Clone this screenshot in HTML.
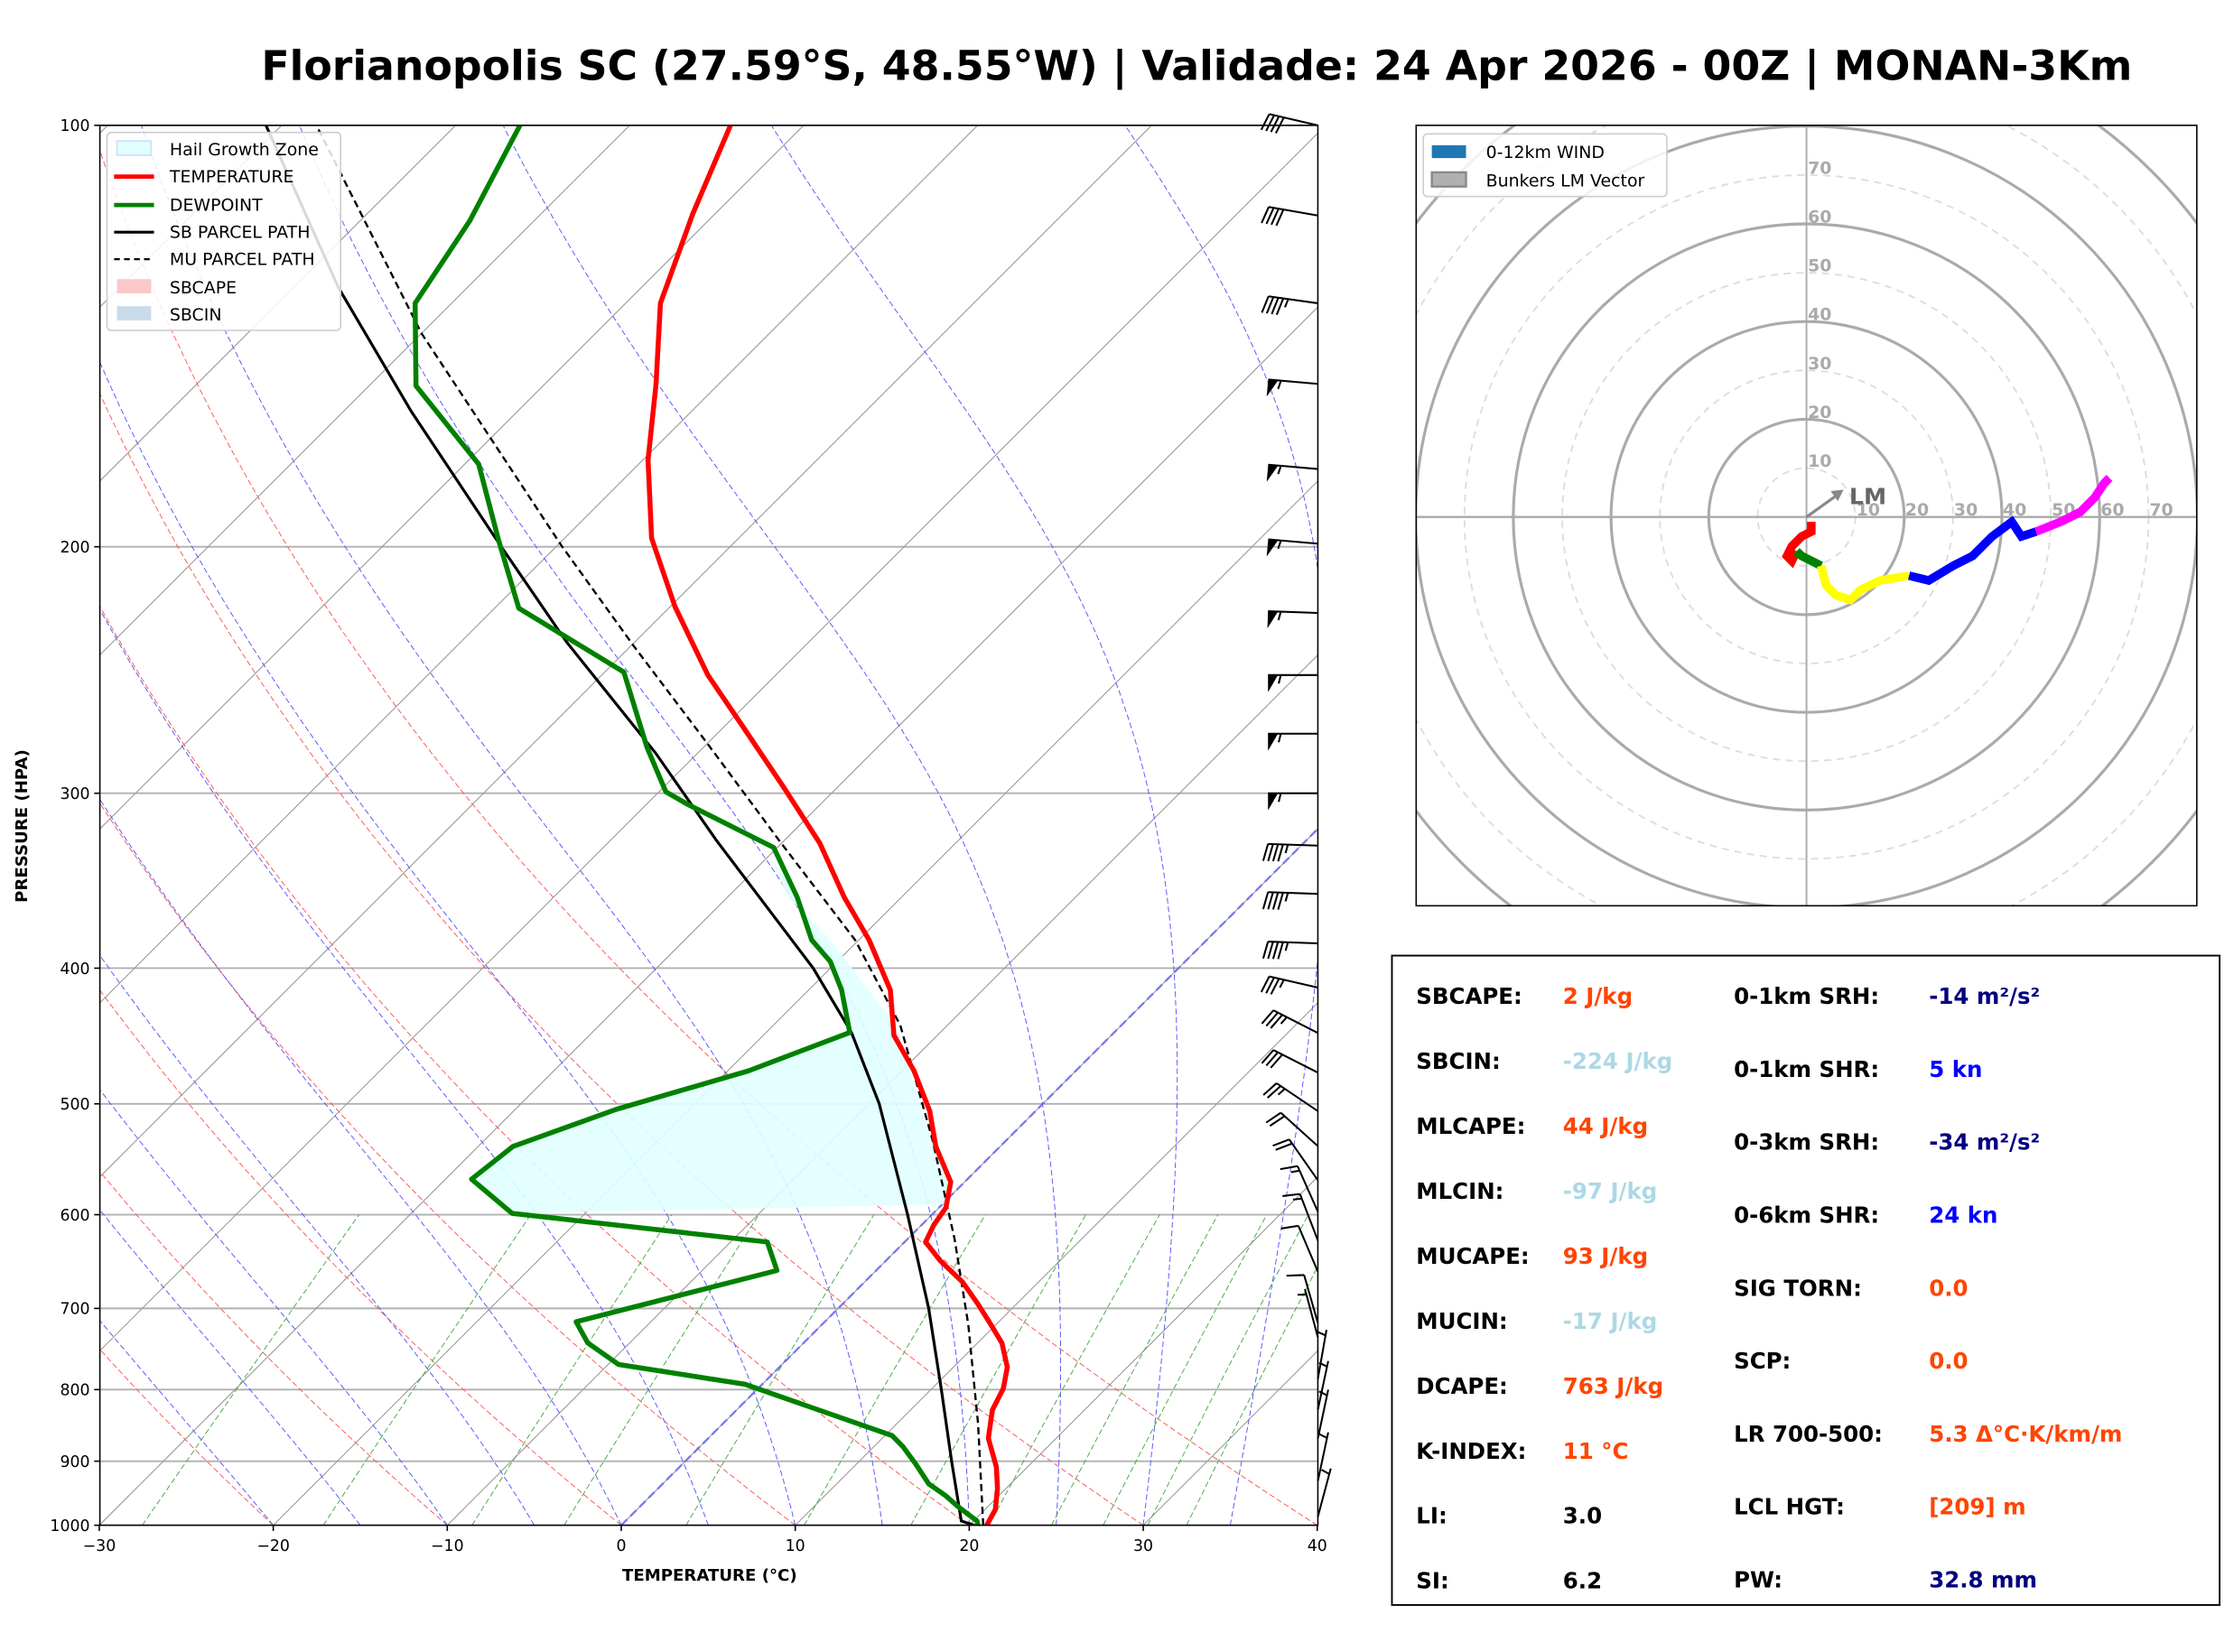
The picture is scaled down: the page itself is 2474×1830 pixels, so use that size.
<!DOCTYPE html>
<html><head><meta charset="utf-8"><style>
html,body{margin:0;padding:0;background:#fff;}
svg{display:block;font-family:"DejaVu Sans","Liberation Sans",sans-serif;}
</style></head><body>
<svg id="fig" width="2474" height="1830" viewBox="0 0 1568 1160" xmlns="http://www.w3.org/2000/svg">
<defs>
<clipPath id="skclip"><rect x="70" y="88" width="855" height="983"/></clipPath>
<clipPath id="hdclip"><rect x="994" y="88" width="548" height="548"/></clipPath>
</defs>
<rect width="1568" height="1160" fill="#fff"/>
<text x="840" y="56" text-anchor="middle" font-size="29" font-weight="bold">Florianopolis SC (27.59°S, 48.55°W) | Validade: 24 Apr 2026 - 00Z | MONAN-3Km</text>
<g id="skew">
<g id="bg" clip-path="url(#skclip)"></g>
<g id="hgz" clip-path="url(#skclip)"></g>
<g id="series" clip-path="url(#skclip)"></g>
<rect x="70" y="88" width="855" height="983" fill="none" stroke="#000" stroke-width="1"/>
<g id="axes"></g>
<g id="barbs"></g>
<text transform="translate(19,580) rotate(-90)" text-anchor="middle" font-size="11.5" font-weight="bold">PRESSURE (HPA)</text>
<text x="498" y="1110" text-anchor="middle" font-size="11.5" font-weight="bold">TEMPERATURE (°C)</text>
<g>
<rect x="75" y="93" width="164" height="139" rx="3" fill="#fff" fill-opacity="0.85" stroke="#ccc"/>
<rect x="82" y="99" width="24" height="10" fill="#e0ffff" stroke="#cdf"/><text x="119" y="109" font-size="12">Hail Growth Zone</text>
<line x1="80" y1="124" x2="108" y2="124" stroke="red" stroke-width="3"/><text x="119" y="128" font-size="12">TEMPERATURE</text>
<line x1="80" y1="144" x2="108" y2="144" stroke="green" stroke-width="3"/><text x="119" y="148" font-size="12">DEWPOINT</text>
<line x1="80" y1="163" x2="108" y2="163" stroke="#000" stroke-width="2"/><text x="119" y="167" font-size="12">SB PARCEL PATH</text>
<line x1="80" y1="182" x2="108" y2="182" stroke="#000" stroke-width="1.5" stroke-dasharray="4,3"/><text x="119" y="186" font-size="12">MU PARCEL PATH</text>
<rect x="82" y="196" width="24" height="10" fill="#f9c8c8"/><text x="119" y="206" font-size="12">SBCAPE</text>
<rect x="82" y="215" width="24" height="10" fill="#c8dcec"/><text x="119" y="225" font-size="12">SBCIN</text>
</g>
</g>
<g id="hodo">
<g id="hodobg" clip-path="url(#hdclip)"></g>
<g id="hodoline" clip-path="url(#hdclip)"></g>
<rect x="994" y="88" width="548" height="548" fill="none" stroke="#000"/>
<g>
<rect x="999" y="94" width="171" height="44" rx="3" fill="#fff" fill-opacity="0.85" stroke="#ccc"/>
<rect x="1005" y="102" width="24" height="9" fill="#1f77b4"/><text x="1043" y="111" font-size="12">0-12km WIND</text>
<rect x="1005" y="121" width="24" height="10" fill="#b0b0b0" stroke="#888" stroke-width="1.5"/><text x="1043" y="131" font-size="12">Bunkers LM Vector</text>
</g>
</g>
<g id="stats">
<rect x="977" y="671" width="581" height="456" fill="#fff" stroke="#000" stroke-width="1.2"/>
</g>
<script>
const tempP=[1000,974.6,941,908.4,866.7,827.3,798.6,771.1,741,718.8,694,669.9,646.9,627.5,610.1,593.1,568.6,536.3,505.8,473.6,446.7,414.7,381.9,355.9,325.7,296.5,267.6,247,220.8,197.2,173.4,153.1,134,115.6,100];
const tempT=[21.0,20.6,19.5,18.2,16.1,14.7,14.1,13.1,11.4,9.7,7.7,5.6,3.1,1.2,0.7,0.4,-0.8,-3.7,-6.1,-9.3,-12.5,-15.3,-19.4,-23.3,-27.8,-33.2,-39.2,-43.9,-49.7,-55.0,-59.7,-63.6,-68.0,-71.3,-74.2];
const dewP=[1000,993,970,952,934.3,904.2,879.2,862.7,793,767.6,741,715.5,657.6,627.5,598.7,566,536.3,504.6,473.6,444.6,414.7,395.6,381.9,355.9,328,305.6,299.3,278.4,245.8,221.3,198.2,174.6,153.5,134,117,100];
const dewT=[20.5,20.2,18.3,16.9,15.3,13.4,11.7,10.4,-1.0,-9.4,-12.4,-14.3,-5.7,-7.9,-24.2,-28.5,-28.0,-24.2,-18.8,-15.2,-18.1,-20.4,-22.7,-26.0,-30.2,-37.6,-39.6,-43.2,-48.9,-58.6,-63.6,-69.2,-77.3,-82.1,-83.7,-86.3];
const sbP=[1000,993,900,800,700,600,500,444.6,400,324.2,280.9,234,199.5,160.1,130.6,100];
const sbT=[20.3,19.3,15.3,10.6,5.2,-1.4,-9.4,-15.1,-21.0,-33.9,-42.4,-53.9,-63.3,-76.1,-87.4,-100.9];
const muP=[1000,846.9,718.8,624.5,530.1,439.5,381.9,324.2,276.4,235.6,199.5,140.8,100];
const muT=[20.8,14.7,8.4,2.7,-4.3,-12.7,-20.2,-30.3,-40.0,-49.8,-59.8,-80.0,-98.0];
const hgzP=[331,356,382,440,530,568,590,598.7,566,536.3,504.6,473.6,444.6,414.7,395.6,381.9,355.9];
const hgzT=[-30.2,-26.5,-21.6,-12.9,-4.4,-1.0,0.2,-24.2,-28.5,-28.0,-24.2,-18.8,-15.2,-18.1,-20.4,-22.7,-26.0];
const barbP=[100,116,134,153,176,199,223,247,272,300,327,354,384,413,445,475,506,536,567,597,626,659,717,734,786,827,867,930,986];
const barbDir=[283,280,278,275,275,275,272,270,270,270,272,272,272,283,297,297,304,312,325,336,339,337,344,345,10,12,12,12,15];
const barbSpd=[40,40,45,55,55,55,55,55,55,55,45,45,45,35,35,30,25,20,20,15,15,10,10,5,5,5,5,5,5];
const xTicks=[-30,-20,-10,0,10,20,30,40];
const yTicks=[100,200,300,400,500,600,700,800,900,1000];
const hodoRed=[[1,-1],[1,-3],[-1,-4],[-3,-6],[-4,-8],[-3,-9],[-2,-7]];
const hodoGreen=[[-2,-7],[-1,-8],[3,-10]];
const hodoYellow=[[3,-10],[4,-14],[6,-16],[9,-17],[11,-15],[15,-13],[21,-12]];
const hodoBlue=[[21,-12],[25,-13],[30,-10],[34,-8],[38,-4],[42,-1],[44,-4],[47,-3]];
const hodoMagenta=[[47,-3],[52,-1],[56,1],[59,4],[61,7],[62,8]];
const hodoRings=[10,20,30,40,50,60,70,80,90,100];
const lmVec=[7,5];
const statsLeftLabels=["SBCAPE:","SBCIN:","MLCAPE:","MLCIN:","MUCAPE:","MUCIN:","DCAPE:","K-INDEX:","LI:","SI:"];
const statsLeftValues=["2 J/kg","-224 J/kg","44 J/kg","-97 J/kg","93 J/kg","-17 J/kg","763 J/kg","11 °C","3.0","6.2"];
const statsLeftColors=["#ff4500","#add8e6","#ff4500","#add8e6","#ff4500","#add8e6","#ff4500","#ff4500","#000","#000"];
const statsRightLabels=["0-1km SRH:","0-1km SHR:","0-3km SRH:","0-6km SHR:","SIG TORN:","SCP:","LR 700-500:","LCL HGT:","PW:"];
const statsRightValues=["-14 m²/s²","5 kn","-34 m²/s²","24 kn","0.0","0.0","5.3 Δ°C·K/km/m","[209] m","32.8 mm"];
const statsRightColors=["#000080","#0000ff","#000080","#0000ff","#ff4500","#ff4500","#ff4500","#ff4500","#000080"];

const NS="http://www.w3.org/2000/svg";
function el(tag,attrs,parent){const e=document.createElementNS(NS,tag);for(const k in attrs)e.setAttribute(k,attrs[k]);parent.appendChild(e);return e;}
function yP(p){return 1071-Math.log10(1000/p)*983;}
function xT(T,p){return 436+T*12.214+(1071-yP(p));}
function pts(P,T){return P.map((p,i)=>xT(T[i],p).toFixed(1)+","+yP(p).toFixed(1)).join(" ");}
const bg=document.getElementById('bg');
yTicks.forEach(p=>{const l=el('line',{x1:70,x2:925,y1:yP(p),y2:yP(p),stroke:'#b0b0b0','stroke-width':1.2},bg);
});
for(let T=-110;T<=40;T+=10){const l=el('line',{x1:xT(T,1000),y1:yP(1000),x2:xT(T,100),y2:yP(100),stroke:'#999','stroke-width':0.7},bg);
}
for(let th=173.15;th<=314;th+=10){let s=[];for(let p=1000;p>=100;p-=10){const T=th*Math.pow(p/1000,0.2857)-273.15;s.push(xT(T,p).toFixed(1)+","+yP(p).toFixed(1));}
const l=el('polyline',{points:s.join(" "),fill:'none',stroke:'#f55','stroke-width':0.6,'stroke-dasharray':'4,2'},bg);
}
function es(Tc){return 6.112*Math.exp(17.67*Tc/(Tc+243.5));}
for(let T0=-20;T0<=35;T0+=5){let T=T0+273.15,s=[];for(let p=1000;p>=100;p-=2){s.push(xT(T-273.15,p).toFixed(1)+","+yP(p).toFixed(1));
const e=es(T-273.15),rs=0.622*e/(p-e);const dT=(287*T+2.5e6*rs)/(p*(1004+2.5e6*2.5e6*rs*0.622/(287*T*T)));T-=dT*2;}
const l=el('polyline',{points:s.join(" "),fill:'none',stroke:'#55f','stroke-width':0.6,'stroke-dasharray':'4,2'},bg);
}
[0.4,1,2,3,5,8,12,16,20,24,28,32].forEach(w=>{let s=[];for(let p=1000;p>=600;p-=10){const r=w/1000;const e=r*p/(0.622+r);const L=Math.log(e/6.112);const Td=243.5*L/(17.67-L);s.push(xT(Td,p).toFixed(1)+","+yP(p).toFixed(1));}
const l=el('polyline',{points:s.join(" "),fill:'none',stroke:'#4a4','stroke-width':0.6,'stroke-dasharray':'4,2'},bg);
});
const z=el('line',{x1:xT(0,1000),y1:yP(1000),x2:xT(0,100),y2:yP(100),stroke:'#66f','stroke-width':1.5,'stroke-dasharray':'6,3','stroke-opacity':0.8},bg);

const hg=el('polygon',{points:pts(hgzP,hgzT),fill:'#e0ffff','fill-opacity':0.9},document.getElementById('hgz'));

const ser=document.getElementById('series');
const mu=el('polyline',{points:pts(muP,muT),fill:'none',stroke:'#000','stroke-width':1.5,'stroke-dasharray':'5,3'},ser);

const sb=el('polyline',{points:pts(sbP,sbT),fill:'none',stroke:'#000','stroke-width':2},ser);

const tl=el('polyline',{points:pts(tempP,tempT),fill:'none',stroke:'red','stroke-width':3.5,'stroke-linejoin':'round'},ser);

const dl=el('polyline',{points:pts(dewP,dewT),fill:'none',stroke:'green','stroke-width':3.5,'stroke-linejoin':'round'},ser);

const ax=document.getElementById('axes');
xTicks.forEach(t=>{const x=436+t*12.214;el('line',{x1:x,x2:x,y1:1071,y2:1075,stroke:'#000'},ax);
const tx=el('text',{x:x,y:1089,'text-anchor':'middle','font-size':11},ax);tx.textContent=(t<0?'−'+(-t):t);
});
yTicks.forEach(p=>{const y=yP(p);el('line',{x1:66,x2:70,y1:y,y2:y,stroke:'#000'},ax);
const tx=el('text',{x:63,y:y+4,'text-anchor':'end','font-size':11},ax);tx.textContent=p;
});
const bb=document.getElementById('barbs');
barbP.forEach((p,i)=>{const g=el('g',{},bb);
const x0=925,y0=yP(p),d=barbDir[i]*Math.PI/180,L=35;const ux=Math.sin(d),uy=-Math.cos(d);
const tx=x0+ux*L,ty=y0+uy*L;el('line',{x1:x0,y1:y0,x2:tx,y2:ty,stroke:'#000','stroke-width':1.3},g);
const px=uy,py=-ux;let spd=barbSpd[i],pos=0;const bl=12;
while(spd>=50){const a=[tx-ux*pos,ty-uy*pos],b=[tx-ux*(pos+7),ty-uy*(pos+7)];const c=[a[0]+px*bl,a[1]+py*bl];
el('polygon',{points:a.join(',')+' '+b.join(',')+' '+c.join(','),fill:'#000'},g);pos+=9;spd-=50;}
while(spd>=10){const a=[tx-ux*pos,ty-uy*pos];el('line',{x1:a[0],y1:a[1],x2:a[0]+px*bl+ux*3,y2:a[1]+py*bl+uy*3,stroke:'#000','stroke-width':1.3},g);pos+=3.5;spd-=10;}
if(spd>=5){if(pos===0)pos=4;const a=[tx-ux*pos,ty-uy*pos];el('line',{x1:a[0],y1:a[1],x2:a[0]+px*bl/2+ux*1.5,y2:a[1]+py*bl/2+uy*1.5,stroke:'#000','stroke-width':1.3},g);}
});
const hb=document.getElementById('hodobg'),cx=1268,cy=363,k=3.43;
hodoRings.forEach(r=>{const solid=(r%20===0);const c=el('circle',{cx:cx,cy:cy,r:r*k,fill:'none',stroke:solid?'#aaa':'#ddd','stroke-width':solid?2:1.2,'stroke-dasharray':solid?'none':'5,4'},hb);

if(r<=70){const t1=el('text',{x:cx+r*k+9,y:cy-1,'text-anchor':'middle','font-size':12,fill:'#aaa','font-weight':'bold'},hb);t1.textContent=r;

const t2=el('text',{x:cx+1,y:cy-r*k-1,'font-size':12,fill:'#aaa','font-weight':'bold'},hb);t2.textContent=r;
}});
el('line',{x1:994,x2:1542,y1:cy,y2:cy,stroke:'#aaa','stroke-width':1.5},hb);
el('line',{x1:cx,x2:cx,y1:88,y2:636,stroke:'#aaa','stroke-width':1.2},hb);
const lm=el('line',{x1:cx,y1:cy,x2:cx+lmVec[0]*k,y2:cy-lmVec[1]*k,stroke:'#888','stroke-width':2},hb);

el('polygon',{points:`${cx+lmVec[0]*k+2},${cy-lmVec[1]*k-2} ${cx+lmVec[0]*k-7},${cy-lmVec[1]*k-1} ${cx+lmVec[0]*k-2},${cy-lmVec[1]*k+6}`,fill:'#888'},hb);
const lmt=el('text',{x:1298,y:354,'font-size':16,'font-weight':'bold',fill:'#666'},hb);lmt.textContent='LM';

const hl=document.getElementById('hodoline');
[[hodoRed,'red'],[hodoGreen,'green'],[hodoYellow,'yellow'],[hodoBlue,'blue'],[hodoMagenta,'magenta']].forEach(([arr,col])=>{
const l=el('polyline',{points:arr.map(q=>(cx+q[0]*k).toFixed(1)+","+(cy-q[1]*k).toFixed(1)).join(" "),fill:'none',stroke:col,'stroke-width':6,'stroke-linejoin':'miter'},hl);
});
const st=document.getElementById('stats');
statsLeftLabels.forEach((s,i)=>{const y=705+i*45.6;
const a=el('text',{x:994,y:y,'font-size':15.5,'font-weight':'bold'},st);a.textContent=s;
const b=el('text',{x:1097,y:y,'font-size':15.5,'font-weight':'bold',fill:statsLeftColors[i]},st);b.textContent=statsLeftValues[i];});
statsRightLabels.forEach((s,i)=>{const y=705+i*51.2;
const a=el('text',{x:1217,y:y,'font-size':15.5,'font-weight':'bold'},st);a.textContent=s;
const b=el('text',{x:1354,y:y,'font-size':15.5,'font-weight':'bold',fill:statsRightColors[i]},st);b.textContent=statsRightValues[i];});
</script>
</svg>
</body></html>
